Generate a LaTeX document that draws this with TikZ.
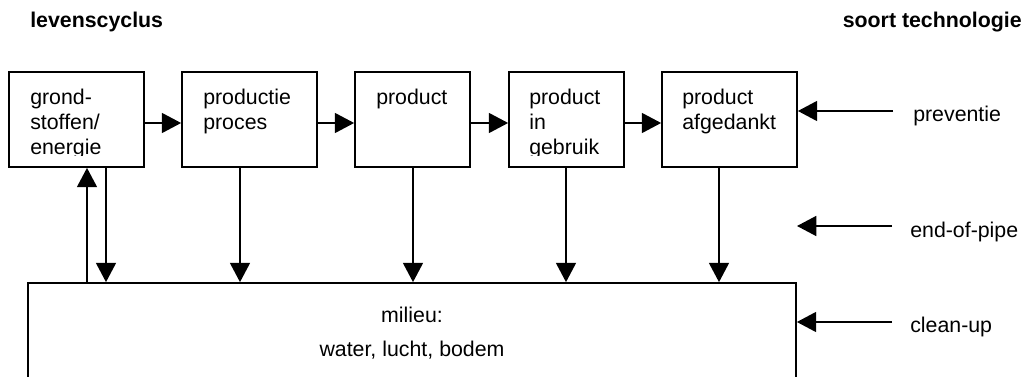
\documentclass[tikz,border=0pt]{standalone}
\usepackage{fontspec}
\setmainfont{Liberation Sans}
\usetikzlibrary{arrows.meta}
\begin{document}
\begin{tikzpicture}[x=0.75pt,y=-0.75pt,
  stage/.style={draw,line width=1.3pt,minimum height=71.25pt,inner sep=0pt},
  wide/.style={stage,minimum width=101.25pt},
  narrow/.style={stage,minimum width=86.25pt},
  boxtext/.style={font=\fontsize{16pt}{18.75pt}\selectfont,align=left,anchor=north west,inner sep=0pt},
  plain/.style={font=\fontsize{16pt}{18.75pt}\selectfont,inner sep=0pt},
  head/.style={font=\fontsize{16pt}{19pt}\selectfont\bfseries,inner sep=0pt},
  arr/.style={line width=1.3pt,-{Triangle[length=14.5pt,width=15pt]}}]

\clip (0,0) rectangle (1024,377);

% headings
\node[head,anchor=base west] (hl) at (30,28) {levenscyclus};
\node[head,anchor=base east] (hr) at (1022,28) {soort technologie};

% life-cycle stages
\node[wide]   (b1) at (76.5,119.5) {};
\node[wide]   (b2) at (249.5,119.5) {};
\node[narrow] (b3) at (412.5,119.5) {};
\node[narrow] (b4) at (566.5,119.5) {};
\node[wide]   (b5) at (729.5,119.5) {};

% stage labels, cut off near the lower edge of each box
\begin{scope}
  \clip (b1.north west) rectangle (b1.east |- 0,156);
  \node[boxtext] (t1) at (30,88.5) {grond-\\stoffen/\\energie};
\end{scope}
\begin{scope}
  \clip (b2.north west) rectangle (b2.east |- 0,156);
  \node[boxtext] (t2) at (203,88.5) {productie\\proces};
\end{scope}
\begin{scope}
  \clip (b3.north west) rectangle (b3.east |- 0,156);
  \node[boxtext] (t3) at (376,88.5) {product};
\end{scope}
\begin{scope}
  \clip (b4.north west) rectangle (b4.east |- 0,156);
  \node[boxtext] (t4) at (529,88.5) {product\\in\\gebruik};
\end{scope}
\begin{scope}
  \clip (b5.north west) rectangle (b5.east |- 0,156);
  \node[boxtext] (t5) at (682,88.5) {product\\afgedankt};
\end{scope}

% environment
\node[draw,line width=1.3pt,minimum width=576pt,minimum height=102.75pt,inner sep=0pt] (m) at (412,351.5) {};
\node[plain,anchor=base] (m1) at (412,323) {milieu:};
\node[plain,anchor=base] (m2) at (412,357) {water, lucht, bodem};

% flow along the chain
\coordinate (row) at (0,123);
\draw[arr] (b1.east |- row) -- (b2.west |- row);
\draw[arr] (b2.east |- row) -- (b3.west |- row);
\draw[arr] (b3.east |- row) -- (b4.west |- row);
\draw[arr] (b4.east |- row) -- (b5.west |- row);

% exchanges with the environment
\draw[arr] (m.north -| 87,0) -- (b1.south -| 87,0);
\draw[arr] (b1.south -| 106,0) -- (m.north -| 106,0);
\draw[arr] (b2.south -| 240,0) -- (m.north -| 240,0);
\draw[arr] (b3.south -| 413,0) -- (m.north -| 413,0);
\draw[arr] (b4.south -| 566,0) -- (m.north -| 566,0);
\draw[arr] (b5.south -| 719,0) -- (m.north -| 719,0);

% kinds of technology
\coordinate (ps) at (893,111);
\coordinate (es) at (892,226);
\coordinate (ee) at (797,226);
\coordinate (cs) at (892,322);
\draw[arr] (ps) -- (b5.east |- ps);
\draw[arr] (es) -- (ee);
\draw[arr] (cs) -- (m.east |- cs);
\node[plain,anchor=base west] (lp) at (913,122) {preventie};
\node[plain,anchor=base west] (le) at (910,238) {end-of-pipe};
\node[plain,anchor=base west] (lc) at (910,333) {clean-up};
\end{tikzpicture}
\end{document}
